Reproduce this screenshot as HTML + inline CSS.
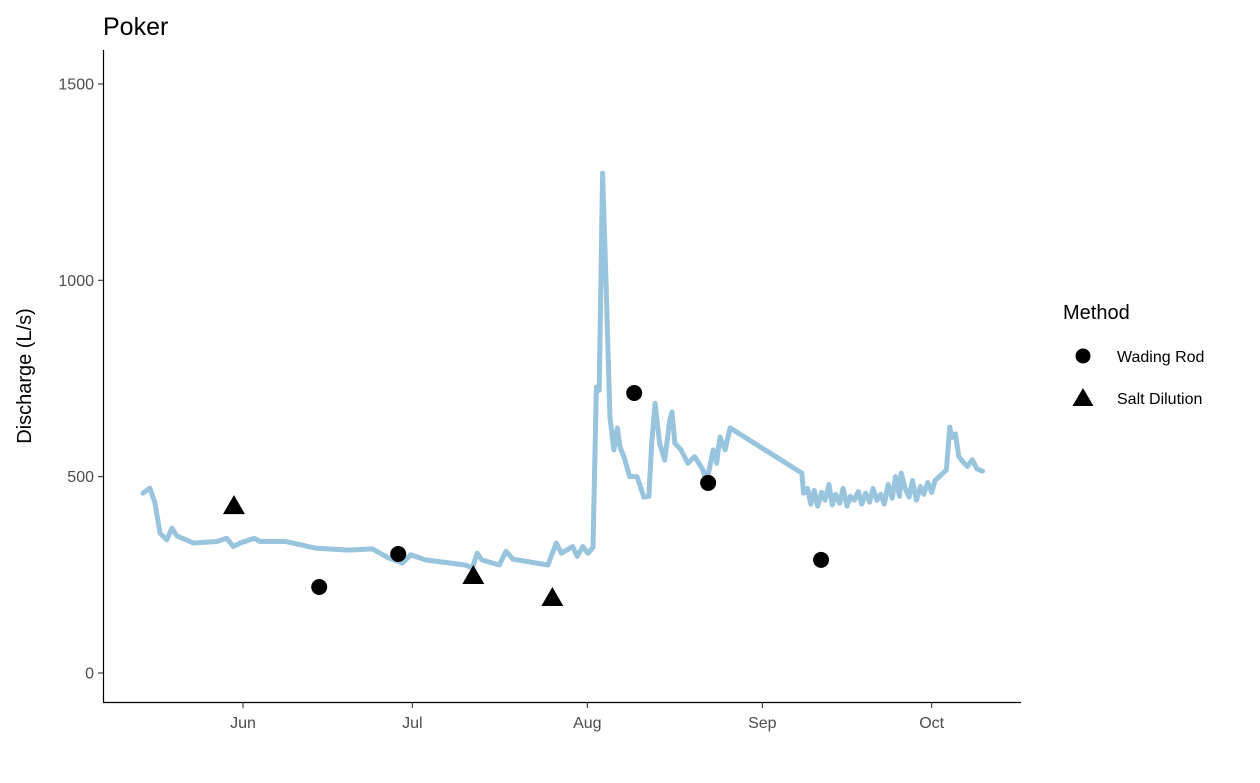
<!DOCTYPE html>
<html><head><meta charset="utf-8"><style>
body{margin:0;background:#fff;}
svg text{font-family:"Liberation Sans",Arial,sans-serif;}
</style></head><body>
<svg id="chart" width="1260" height="778" xmlns="http://www.w3.org/2000/svg">
<text x="103" y="35" font-size="25" fill="#000">Poker</text>
<g id="yaxis"></g>
<g id="xaxis"></g>
<text transform="translate(31,376) rotate(-90)" text-anchor="middle" font-size="20" fill="#000">Discharge (L/s)</text>
<g id="plot"></g>
<g>
<text x="1063" y="319" font-size="20" fill="#000">Method</text>
<circle cx="1083" cy="356" r="7.5" fill="#000"/>
<text x="1117" y="362" font-size="16" fill="#000">Wading Rod</text>
<polygon points="1083,388 1093.5,406 1072.5,406" fill="#000"/>
<text x="1117" y="404" font-size="16" fill="#000">Salt Dilution</text>
</g>
</svg>
<script>
// days since May 1
const lineDays=[13.3,14.5,15.4,16.3,17.5,18.4,19.3,22.2,26.4,28.1,29.3,30.5,33,34,38.5,43.8,49.7,53.9,56.8,59.2,60.7,63.3,70.4,71.6,72.5,73.3,76.4,77.6,78.8,85,86.5,87.4,89.4,90.2,91.2,92.1,93,93.6,94.1,94.7,95.3,96,96.7,97.3,97.8,98.5,99.5,100.8,102,102.9,103.4,104,104.8,105.7,106.6,107,107.5,108.6,109.8,111,112.5,113.1,114.3,114.9,115.5,116.4,117.3,130,130.3,131,131.6,132.2,132.8,133.5,134.1,134.8,135.4,136,136.7,137.3,138,138.6,139.3,140,140.6,141.3,142,142.6,143.3,144,144.6,145.3,146,146.6,147.3,147.6,148.3,149,149.6,150.3,151,151.6,152.3,153,153.6,154.7,155.6,156.2,156.6,157.2,157.8,158.4,159.3,160.2,161,162];
const lineValues=[458,471,433,356,339,369,349,331,335,343,322,331,343,335,335,318,313,316,293,280,301,288,275,267,305,288,275,310,290,275,331,305,322,297,322,305,320,728,720,1273,1000,652,568,624,575,550,500,500,448,450,585,687,585,542,644,665,585,568,534,551,517,484,568,534,601,568,624,509,458,470,430,465,425,460,440,480,428,455,432,470,425,450,440,462,430,458,435,470,440,455,430,480,445,500,450,509,470,448,490,440,475,455,485,460,490,505,517,626,600,609,551,540,526,543,520,514];
const wadingDays=[44.5,58.5,100.3,113.4,133.4];
const wadingValues=[219,303,713,484,288];
const saltDays=[29.4,71.8,85.8];
const saltValues=[425,247,191];
const yTicks=[0,500,1000,1500];
const xTickDays=[31,61,92,123,153];
const xTickLabels=["Jun","Jul","Aug","Sep","Oct"];

const NS="http://www.w3.org/2000/svg";
const X=d=>243+(d-31)*5.645;
const Y=v=>673-v*0.3927;
function mk(tag,attrs,parent){const e=document.createElementNS(NS,tag);for(const k in attrs)e.setAttribute(k,attrs[k]);parent.appendChild(e);return e;}
const yax=document.getElementById('yaxis'),xax=document.getElementById('xaxis'),plot=document.getElementById('plot');
let a=mk('line',{x1:103.5,y1:50,x2:103.5,y2:702.5,stroke:'#000','stroke-width':1.2},yax);


a=mk('line',{x1:103,y1:702.5,x2:1021,y2:702.5,stroke:'#000','stroke-width':1.2},xax);


yTicks.forEach(v=>{
 const t=mk('line',{x1:98,x2:103,y1:Y(v),y2:Y(v),stroke:'#333','stroke-width':1.1},yax);
 
 
 const l=mk('text',{x:94,y:Y(v)+5.5,'text-anchor':'end','font-size':16,fill:'#4d4d4d'},yax);
 l.textContent=v;
 
 
});
xTickDays.forEach((d,i)=>{
 const t=mk('line',{x1:X(d),x2:X(d),y1:702,y2:708,stroke:'#333','stroke-width':1.1},xax);
 
 
 const l=mk('text',{x:X(d),y:728,'text-anchor':'middle','font-size':16,fill:'#4d4d4d'},xax);
 l.textContent=xTickLabels[i];
 
 
});
const pl=mk('polyline',{points:lineDays.map((d,i)=>X(d)+','+Y(lineValues[i])).join(' '),fill:'none',stroke:'#99c4dd','stroke-width':5,'stroke-linejoin':'round','stroke-linecap':'round'},plot);


wadingDays.forEach((d,i)=>{
 const c=mk('circle',{cx:X(d),cy:Y(wadingValues[i]),r:8,fill:'#000'},plot);
 
 
});
saltDays.forEach((d,i)=>{
 const x=X(d),y=Y(saltValues[i]);
 const p=mk('polygon',{points:`${x},${y-11} ${x+11},${y+8} ${x-11},${y+8}`,fill:'#000'},plot);
 
 
});
</script>
</body></html>
